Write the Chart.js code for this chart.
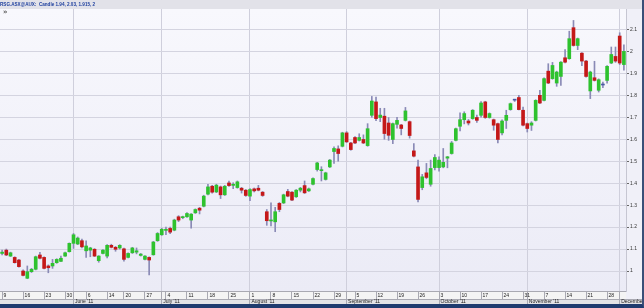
<!DOCTYPE html>
<html>
<head>
<meta charset="utf-8">
<script src="https://cdn.jsdelivr.net/npm/chart.js@4.4.1/dist/chart.umd.min.js"></script>
<style>
html, body { margin: 0; padding: 0; background: #fff; }
#frame { width: 644px; height: 308px; box-sizing: border-box; border-right: 2px solid #3a4f78; border-bottom: 4px solid #1f3b6e; overflow: hidden; }
canvas { display: block; }
</style>
</head>
<body>
<div id="frame"><canvas id="grafico" width="642" height="304"></canvas></div>
<script>
// valores (RSG.ASX, 9 mayo - 2 dic 2011)
const opens = [
  1.080, 1.095, 1.068, 1.062, 1.050, 1.000, 0.967, 0.997, 1.008, 1.073,
  1.062, 1.023, 1.023, 1.038, 1.044, 1.068, 1.088, 1.126, 1.123, 1.138,
  1.092, 1.095, 1.099, 1.047, 1.080, 1.068, 1.117, 1.108, 1.105, 1.101,
  1.062, 1.083, 1.086, 1.071, 1.053, 1.062, 1.074, 1.138, 1.165, 1.185,
  1.194, 1.186, 1.247, 1.243, 1.247, 1.232, 1.265, 1.286, 1.295, 1.350,
  1.386, 1.360, 1.383, 1.347, 1.401, 1.390, 1.380, 1.377, 1.368, 1.341,
  1.374, 1.377, 1.359, 1.270, 1.228, 1.224, 1.308, 1.310, 1.362, 1.359,
  1.338, 1.368, 1.389, 1.365, 1.395, 1.462, 1.457, 1.417, 1.474, 1.544,
  1.556, 1.568, 1.629, 1.583, 1.608, 1.595, 1.599, 1.571, 1.709, 1.770,
  1.699, 1.705, 1.674, 1.599, 1.668, 1.665, 1.686, 1.680, 1.547, 1.474,
  1.380, 1.447, 1.395, 1.471, 1.471, 1.474, 1.514, 1.535, 1.595, 1.659,
  1.689, 1.683, 1.694, 1.699, 1.709, 1.770, 1.699, 1.689, 1.671, 1.629,
  1.686, 1.735, 1.778, 1.790, 1.732, 1.671, 1.664, 1.686, 1.800, 1.777,
  1.910, 1.876, 1.856, 1.886, 1.971, 1.967, 2.108, 2.027, 1.992, 1.956,
  1.820, 1.880, 1.823, 1.847, 1.868, 1.947, 1.977, 2.070, 1.94
];
const highs = [
  1.095, 1.100, 1.086, 1.065, 1.053, 1.005, 1.023, 1.012, 1.068, 1.085,
  1.065, 1.028, 1.053, 1.056, 1.068, 1.086, 1.128, 1.171, 1.155, 1.145,
  1.138, 1.108, 1.102, 1.070, 1.098, 1.120, 1.122, 1.112, 1.120, 1.104,
  1.083, 1.108, 1.105, 1.080, 1.070, 1.065, 1.135, 1.175, 1.195, 1.200,
  1.200, 1.236, 1.252, 1.250, 1.266, 1.262, 1.283, 1.290, 1.345, 1.395,
  1.390, 1.395, 1.387, 1.390, 1.410, 1.402, 1.410, 1.381, 1.371, 1.375,
  1.378, 1.390, 1.362, 1.280, 1.310, 1.290, 1.312, 1.350, 1.372, 1.362,
  1.371, 1.381, 1.410, 1.378, 1.424, 1.495, 1.475, 1.450, 1.508, 1.565,
  1.570, 1.632, 1.635, 1.586, 1.612, 1.625, 1.620, 1.671, 1.795, 1.792,
  1.741, 1.741, 1.699, 1.674, 1.700, 1.668, 1.745, 1.683, 1.580, 1.505,
  1.440, 1.490, 1.505, 1.530, 1.520, 1.558, 1.522, 1.590, 1.651, 1.720,
  1.725, 1.690, 1.735, 1.710, 1.772, 1.773, 1.720, 1.692, 1.674, 1.688,
  1.732, 1.765, 1.782, 1.800, 1.747, 1.674, 1.680, 1.780, 1.823, 1.880,
  1.944, 1.950, 1.910, 1.954, 2.008, 2.092, 2.141, 2.061, 1.995, 1.959,
  1.910, 1.955, 1.875, 1.860, 1.935, 2.020, 2.020, 2.085, 2.03
];
const lows = [
  1.073, 1.070, 1.066, 1.036, 1.018, 0.978, 0.965, 0.993, 1.005, 1.055,
  1.010, 0.992, 1.012, 1.035, 1.042, 1.066, 1.086, 1.103, 1.120, 1.105,
  1.062, 1.065, 1.066, 1.040, 1.078, 1.060, 1.105, 1.090, 1.100, 1.045,
  1.060, 1.080, 1.078, 1.068, 1.050, 0.982, 1.072, 1.135, 1.162, 1.165,
  1.170, 1.183, 1.225, 1.238, 1.244, 1.195, 1.262, 1.260, 1.292, 1.347,
  1.355, 1.357, 1.330, 1.344, 1.385, 1.375, 1.377, 1.355, 1.340, 1.320,
  1.360, 1.365, 1.340, 1.208, 1.205, 1.179, 1.270, 1.307, 1.338, 1.320,
  1.335, 1.360, 1.353, 1.362, 1.392, 1.455, 1.410, 1.414, 1.471, 1.490,
  1.500, 1.565, 1.585, 1.550, 1.580, 1.592, 1.580, 1.568, 1.700, 1.685,
  1.680, 1.600, 1.595, 1.580, 1.650, 1.620, 1.683, 1.605, 1.520, 1.315,
  1.370, 1.420, 1.386, 1.460, 1.455, 1.470, 1.470, 1.532, 1.592, 1.638,
  1.670, 1.665, 1.691, 1.677, 1.700, 1.695, 1.696, 1.641, 1.583, 1.620,
  1.649, 1.732, 1.772, 1.733, 1.661, 1.633, 1.640, 1.683, 1.762, 1.774,
  1.853, 1.873, 1.841, 1.845, 1.948, 1.964, 2.024, 2.008, 1.935, 1.883,
  1.785, 1.865, 1.815, 1.835, 1.855, 1.944, 1.950, 1.940, 1.915
];
const closes = [
  1.086, 1.073, 1.083, 1.038, 1.020, 0.980, 0.997, 1.008, 1.065, 1.058,
  1.012, 1.015, 1.035, 1.053, 1.058, 1.083, 1.126, 1.165, 1.150, 1.110,
  1.114, 1.105, 1.068, 1.068, 1.095, 1.117, 1.108, 1.099, 1.117, 1.053,
  1.080, 1.105, 1.092, 1.077, 1.068, 1.050, 1.132, 1.171, 1.190, 1.190,
  1.177, 1.232, 1.232, 1.247, 1.262, 1.259, 1.280, 1.277, 1.341, 1.383,
  1.359, 1.391, 1.347, 1.386, 1.389, 1.395, 1.406, 1.368, 1.344, 1.371,
  1.365, 1.368, 1.344, 1.229, 1.232, 1.270, 1.280, 1.347, 1.341, 1.323,
  1.368, 1.377, 1.356, 1.374, 1.421, 1.492, 1.461, 1.447, 1.505, 1.558,
  1.535, 1.629, 1.588, 1.553, 1.583, 1.608, 1.583, 1.648, 1.774, 1.694,
  1.710, 1.626, 1.618, 1.671, 1.686, 1.649, 1.729, 1.617, 1.523, 1.326,
  1.429, 1.426, 1.467, 1.517, 1.505, 1.495, 1.520, 1.583, 1.648, 1.689,
  1.717, 1.674, 1.732, 1.686, 1.765, 1.699, 1.717, 1.664, 1.599, 1.683,
  1.709, 1.762, 1.778, 1.735, 1.664, 1.649, 1.674, 1.777, 1.765, 1.876,
  1.856, 1.936, 1.906, 1.951, 1.951, 2.058, 2.027, 2.058, 1.956, 1.886,
  1.906, 1.868, 1.871, 1.847, 1.932, 1.986, 1.956, 1.947, 2
];

const yTicks = [1, 1.1, 1.2, 1.3, 1.4, 1.5, 1.6, 1.7, 1.8, 1.9, 2, 2.1];
const monthNames = ['January', 'February', 'March', 'April', 'May', 'June', 'July',
  'August', 'September', 'October', 'November', 'December'];
const startDate = new Date(2011, 4, 9);
const holidays = ['2011-6-13']; // Queen's Birthday

// dias de mercado (sin fines de semana ni feriados)
const fechas = [];
let d = new Date(startDate);
while (fechas.length < closes.length) {
  const key = d.getFullYear() + '-' + (d.getMonth() + 1) + '-' + d.getDate();
  if (d.getDay() !== 0 && d.getDay() !== 6 && !holidays.includes(key)) {
    fechas.push(new Date(d));
  }
  d.setDate(d.getDate() + 1);
}
const inicioSemana = fechas.map((f, i) => i === 0 || f.getDay() < fechas[i - 1].getDay() || (f - fechas[i - 1]) > 3 * 86400000);
const inicioMes = fechas.map((f, i) => i > 0 && f.getMonth() !== fechas[i - 1].getMonth());
const etiquetas = fechas.map(f => f.getDate() + ' ' + monthNames[f.getMonth()]);

const cuerpos = opens.map((o, i) => [Math.min(o, closes[i]), Math.max(o, closes[i])]);
const mechas = lows.map((l, i) => [l, highs[i]]);
const coloresCuerpo = opens.map((o, i) => closes[i] > o ? '#2ec22e' : (closes[i] < o ? '#c41818' : '#4a58a6'));

const n = closes.length - 1;
const titulo = 'RSG.ASX@AUX:  Candle ' + [opens[n], highs[n], lows[n], closes[n]].join(', ');
const fuente = '"Liberation Sans", Arial, sans-serif';

const marco = {
  id: 'marco',
  beforeDraw(chart) {
    const { ctx, chartArea: a, scales } = chart;
    const x = scales.x, x2 = scales.x2;
    ctx.save();
    ctx.fillStyle = '#f0f0f8';
    ctx.fillRect(0, 0, chart.width, chart.height);
    ctx.fillStyle = '#e2e2e9';
    ctx.fillRect(0, 0, chart.width, a.top);
    const g = ctx.createLinearGradient(0, a.top, 0, a.bottom);
    g.addColorStop(0, '#f8f8fd');
    g.addColorStop(1, '#ebebf6');
    ctx.fillStyle = g;
    ctx.fillRect(a.left, a.top, a.right - a.left, a.bottom - a.top);
    // fila de semanas y fila de meses
    ctx.fillStyle = '#f4f4f4';
    ctx.fillRect(0, x.top, a.right, x.bottom - x.top);
    ctx.fillStyle = '#e3e3e6';
    ctx.fillRect(0, x2.top, chart.width, x2.bottom - x2.top);
    ctx.strokeStyle = '#a9a9b2';
    ctx.lineWidth = 1;
    ctx.beginPath();
    ctx.moveTo(0, Math.round(x.top) + 0.5);
    ctx.lineTo(a.right, Math.round(x.top) + 0.5);
    ctx.moveTo(0, Math.round(x2.top) + 0.5);
    ctx.lineTo(chart.width, Math.round(x2.top) + 0.5);
    for (let i = 0; i < fechas.length; i++) {
      const px = Math.floor(x.getPixelForValue(i)) + 0.5;
      if (inicioSemana[i] || inicioMes[i]) {
        ctx.moveTo(px, x.top);
        ctx.lineTo(px, x.bottom);
      }
      if (inicioMes[i]) {
        ctx.moveTo(px, x2.top);
        ctx.lineTo(px, x2.bottom);
      }
    }
    ctx.stroke();
    ctx.restore();
  },
  afterDraw(chart) {
    const ctx = chart.ctx;
    ctx.save();
    ctx.font = 'bold 7px "DejaVu Sans", sans-serif';
    ctx.fillStyle = '#555';
    ctx.fillText('\u00bb', 3, 14);
    ctx.restore();
  }
};

new Chart(document.getElementById('grafico').getContext('2d'), {
  type: 'bar',
  data: {
    labels: etiquetas,
    datasets: [
      {
        label: 'Mecha',
        data: mechas,
        backgroundColor: '#8a8ab6',
        barThickness: 1,
        grouped: false,
        order: 2
      },
      {
        label: 'Cuerpo',
        data: cuerpos,
        backgroundColor: coloresCuerpo,
        barThickness: 3,
        minBarLength: 1,
        grouped: false,
        order: 1
      }
    ]
  },
  options: {
    responsive: false,
    animation: false,
    layout: { padding: 0 },
    plugins: {
      legend: { display: false },
      tooltip: { enabled: false },
      title: {
        display: true,
        text: titulo,
        align: 'start',
        color: '#1e3f9e',
        font: { size: 4.6, weight: 'bold', family: fuente },
        padding: { top: 1.5, bottom: 2 }
      }
    },
    scales: {
      x: {
        type: 'category',
        offset: true,
        grid: {
          offset: false,
          drawTicks: false,
          color: c => inicioMes[c.index] ? '#cfcfdc' : 'rgba(0,0,0,0)'
        },
        border: { display: false },
        ticks: {
          autoSkip: false,
          maxRotation: 0,
          minRotation: 0,
          align: 'start',
          labelOffset: 1.5,
          padding: 1.5,
          color: '#222',
          font: { size: 5, family: fuente },
          callback: (v, i) => inicioSemana[i] ? String(fechas[i].getDate()) : ''
        },
        afterFit: s => { s.height = 8; s.paddingLeft = 0; s.paddingRight = 0; }
      },
      x2: {
        type: 'category',
        position: 'bottom',
        offset: true,
        grid: { display: false, drawTicks: false },
        border: { display: false },
        ticks: {
          autoSkip: false,
          maxRotation: 0,
          minRotation: 0,
          align: 'start',
          labelOffset: 1.5,
          padding: 0,
          color: '#222',
          font: { size: 5, family: fuente },
          callback: (v, i) => inicioMes[i] ? monthNames[fechas[i].getMonth()] + " '" + String(fechas[i].getFullYear()).slice(2) : ''
        },
        afterFit: s => { s.height = 5; s.paddingLeft = 0; s.paddingRight = 0; }
      },
      y: {
        position: 'right',
        min: 0.909,
        max: 2.193,
        grid: { color: '#d4d4e0', tickLength: 3, tickColor: '#666' },
        border: { display: true, color: '#c6c6d2' },
        ticks: {
          padding: 1,
          color: '#333',
          font: { size: 5, family: fuente },
          callback: v => String(Number(v.toFixed(1)))
        },
        afterBuildTicks: s => { s.ticks = yTicks.map(v => ({ value: v })); },
        afterFit: s => { s.width = 16; s.paddingTop = 0; s.paddingBottom = 0; }
      }
    }
  },
  plugins: [marco]
});
</script>
</body>
</html>
